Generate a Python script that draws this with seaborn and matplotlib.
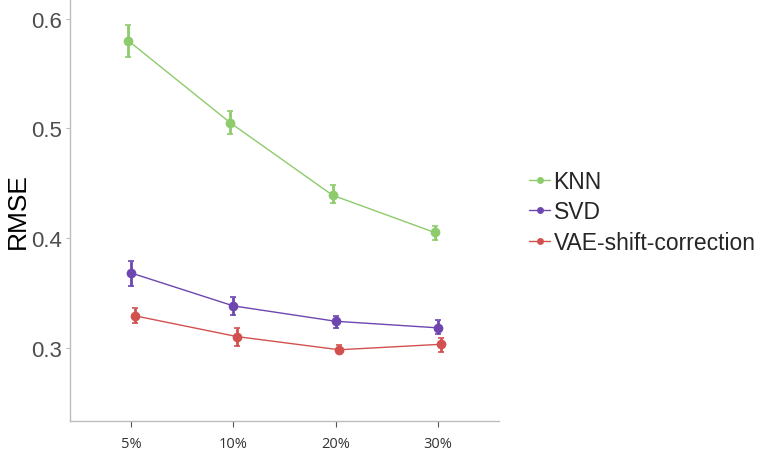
import matplotlib
matplotlib.use("Agg")
import matplotlib.pyplot as plt
import seaborn as sns
import pandas as pd
import numpy as np
from matplotlib.lines import Line2D

categories = ["5%", "10%", "20%", "30%"]
methods = ["KNN", "SVD", "VAE-shift-correction"]

knn_mean = [0.580, 0.505, 0.439, 0.405]
knn_low = [0.565, 0.495, 0.432, 0.398]
knn_high = [0.594, 0.516, 0.448, 0.411]

svd_mean = [0.368, 0.338, 0.324, 0.318]
svd_low = [0.356, 0.330, 0.318, 0.312]
svd_high = [0.379, 0.346, 0.329, 0.325]

vae_mean = [0.329, 0.310, 0.298, 0.303]
vae_low = [0.322, 0.301, 0.295, 0.296]
vae_high = [0.336, 0.318, 0.302, 0.309]

colors = {"KNN": "#8DCB6B", "SVD": "#6E46B0", "VAE-shift-correction": "#D2514F"}
dodge = {"KNN": -0.03, "SVD": 0.0, "VAE-shift-correction": 0.035}

series = {
    "KNN": (knn_mean, knn_low, knn_high),
    "SVD": (svd_mean, svd_low, svd_high),
    "VAE-shift-correction": (vae_mean, vae_low, vae_high),
}

rows = []
for m in methods:
    mean, low, high = series[m]
    for i, c in enumerate(categories):
        rows.append({"method": m, "cat": c, "pos": i + dodge[m],
                     "rmse": mean[i], "low": low[i], "high": high[i]})
df = pd.DataFrame(rows)

sns.set_theme(style="white")
plt.rcParams["font.family"] = ["Liberation Sans", "DejaVu Sans"]

fig = plt.figure(figsize=(7.57, 4.52), dpi=100)
ax = fig.add_axes([70/757, 30/452, (499-70)/757, 422/452])

sns.lineplot(data=df, x="pos", y="rmse", hue="method", palette=colors,
             hue_order=methods, marker="o", markersize=7, markeredgewidth=0,
             linewidth=1.0, legend=False, ax=ax, sort=True)

for m in methods:
    sub = df[df.method == m]
    ax.errorbar(sub["pos"], sub["rmse"],
                yerr=[sub["rmse"] - sub["low"], sub["high"] - sub["rmse"]],
                fmt="none", ecolor=colors[m], elinewidth=2.0, capsize=2.5,
                capthick=1.2)

ax.set_xlim(-0.6, 3.6)
ax.set_ylim(0.233, 0.618)
ax.set_xticks(range(len(categories)))
ax.set_xticklabels(categories, fontsize=10.5, color="#333333",
                   family=["Open Sans", "DejaVu Sans"])
ax.set_yticks([0.3, 0.4, 0.5, 0.6])
ax.set_yticklabels(["0.3", "0.4", "0.5", "0.6"], fontsize=16, color="#4D4D4D")
ax.set_xlabel("")
ax.set_ylabel("RMSE", fontsize=19, color="black", labelpad=1)

for s in ["top", "right"]:
    ax.spines[s].set_visible(False)
for s in ["left", "bottom"]:
    ax.spines[s].set_color("#BDBDBD")
    ax.spines[s].set_linewidth(1.0)

ax.tick_params(axis="y", which="major", length=3, width=0.8, color="#BDBDBD",
               left=True, pad=3)
ax.tick_params(axis="x", which="major", length=4, width=0.8, color="#555555",
               bottom=True, pad=7)

handles = [Line2D([0], [0], color=colors[m], marker="o", markersize=5,
                  markeredgewidth=0, linewidth=1.0) for m in methods]
fig.legend(handles, methods, loc="center left",
           bbox_to_anchor=(529/757, 1 - 213/452), frameon=False,
           fontsize=16.5, handlelength=0.92, handletextpad=0.15,
           labelspacing=0.33, borderaxespad=0, borderpad=0)

fig.savefig("out.png", dpi=100)
